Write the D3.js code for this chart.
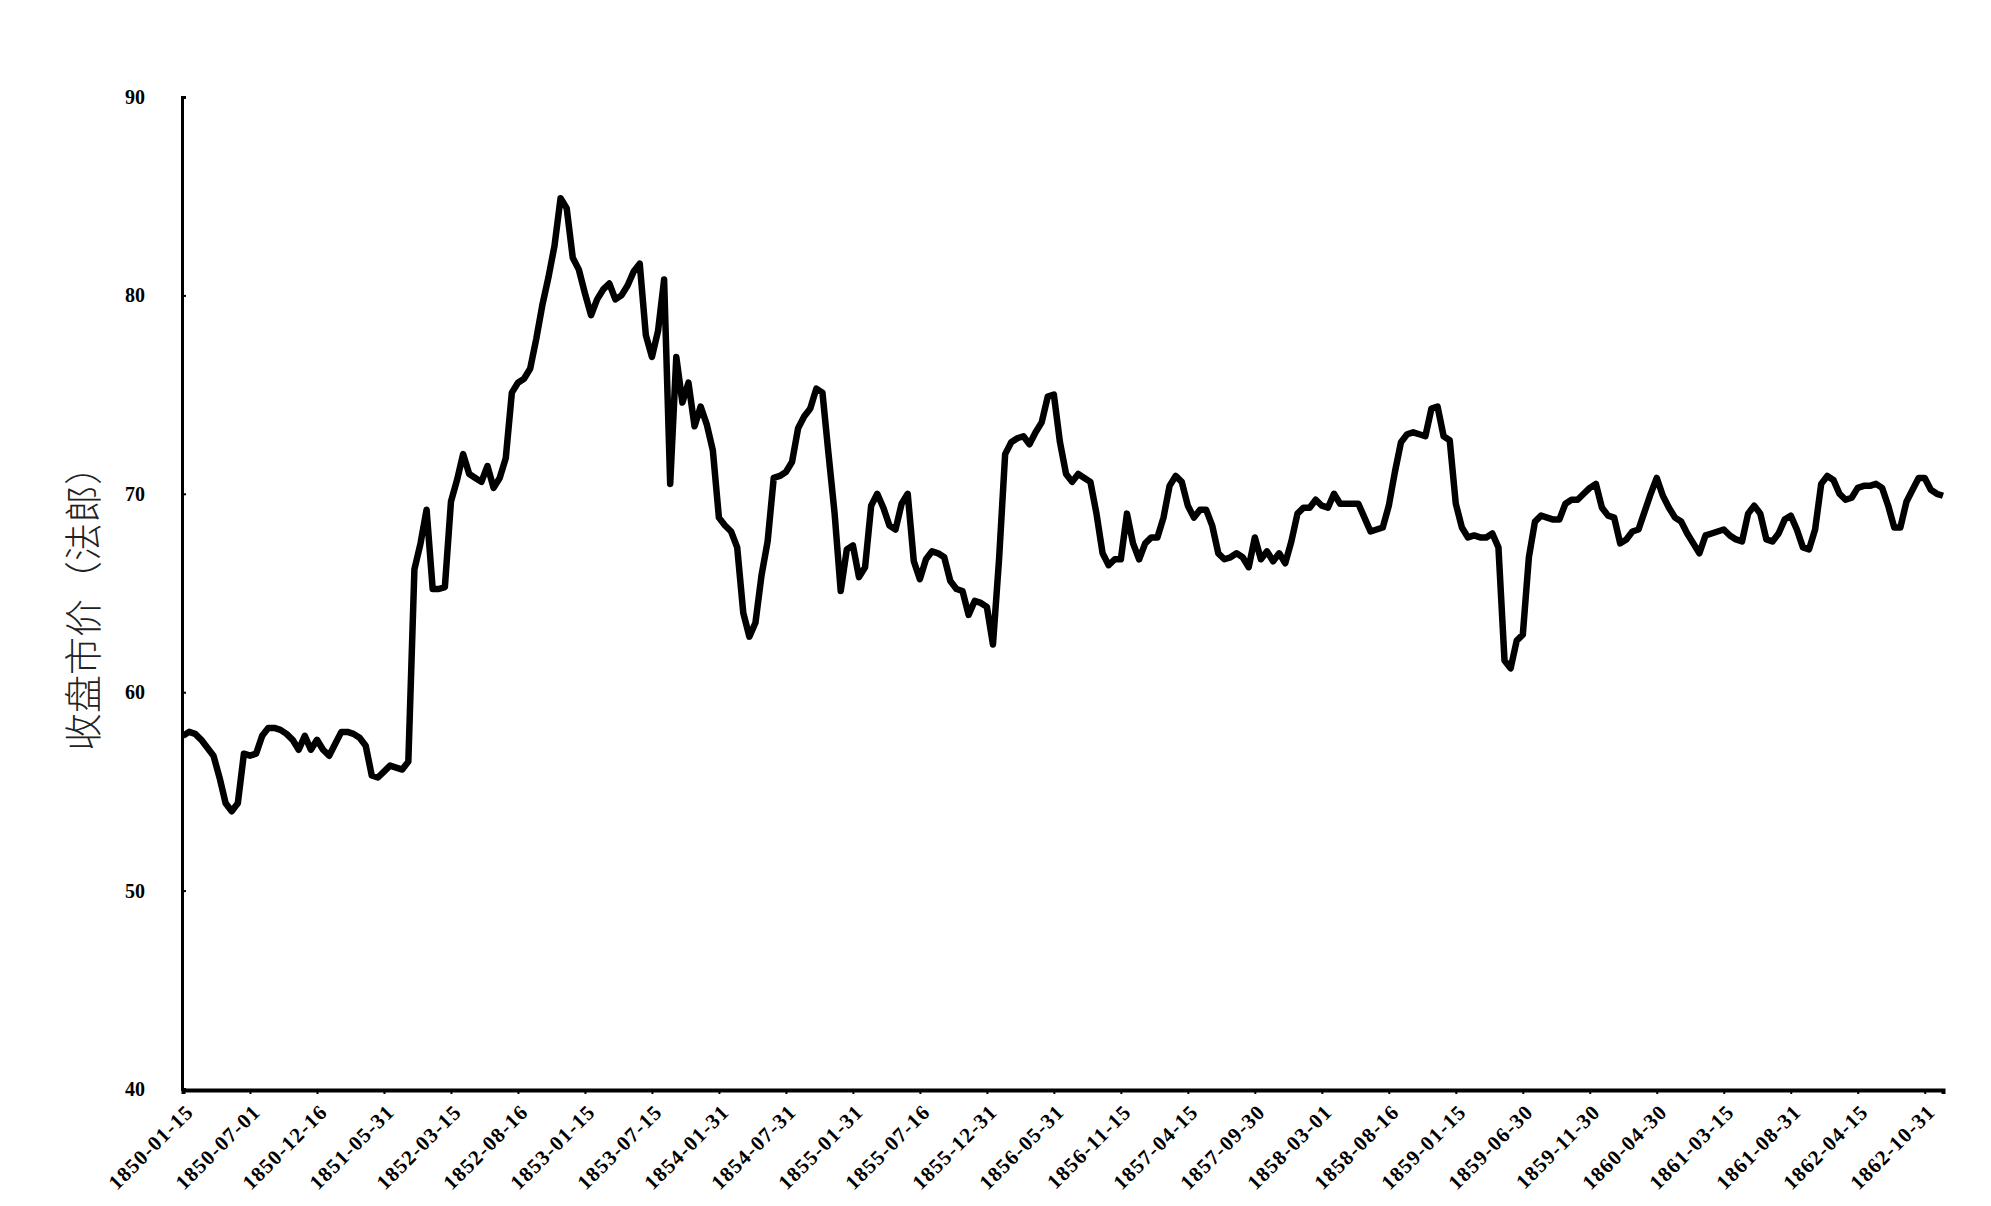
<!DOCTYPE html>
<html>
<head>
<meta charset="utf-8">
<script src="https://cdn.jsdelivr.net/npm/d3@7"></script>
<style>
  html, body { margin: 0; padding: 0; background: #fff; }
  svg { display: block; }
</style>
</head>
<body>
<svg id="chart" width="1991" height="1206"></svg>
<script>
// ---- data ----
const yTitle = "收盘市价（法郎）";
const yTicks = [40, 50, 60, 70, 80, 90];
const labelEvery = 11;
const tickLabels = ["1850-01-15","1850-07-01","1850-12-16","1851-05-31","1852-03-15","1852-08-16","1853-01-15","1853-07-15","1854-01-31","1854-07-31","1855-01-31","1855-07-16","1855-12-31","1856-05-31","1856-11-15","1857-04-15","1857-09-30","1858-03-01","1858-08-16","1859-01-15","1859-06-30","1859-11-30","1860-04-30","1861-03-15","1861-08-31","1862-04-15","1862-10-31"];
const closePrice = [
  57.8,58.0,57.9,57.6,57.2,56.8,55.7,54.4,54.0,54.4,
  56.9,56.8,56.9,57.8,58.2,58.2,58.1,57.9,57.6,57.1,
  57.8,57.1,57.6,57.1,56.8,57.4,58.0,58.0,57.9,57.7,
  57.3,55.8,55.7,56.0,56.3,56.2,56.1,56.5,66.2,67.5,
  69.2,65.2,65.2,65.3,69.6,70.7,72.0,71.0,70.8,70.6,
  71.4,70.3,70.8,71.8,75.1,75.6,75.8,76.3,77.8,79.5,
  80.9,82.5,84.9,84.4,81.9,81.3,80.1,79.0,79.8,80.3,
  80.6,79.8,80.0,80.5,81.2,81.6,78.0,76.9,78.2,80.8,
  70.5,76.9,74.6,75.6,73.4,74.4,73.5,72.2,68.8,68.4,
  68.1,67.3,64.0,62.8,63.5,65.9,67.6,70.8,70.9,71.1,
  71.6,73.3,73.9,74.3,75.3,75.1,72.0,69.0,65.1,67.2,
  67.4,65.8,66.3,69.4,70.0,69.3,68.4,68.2,69.5,70.0,
  66.6,65.7,66.7,67.1,67.0,66.8,65.6,65.2,65.1,63.9,
  64.6,64.5,64.3,62.4,66.7,72.0,72.6,72.8,72.9,72.5,
  73.1,73.6,74.9,75.0,72.6,71.0,70.6,71.0,70.8,70.6,
  69.0,67.0,66.4,66.7,66.7,69.0,67.5,66.7,67.5,67.8,
  67.8,68.8,70.4,70.9,70.6,69.4,68.8,69.2,69.2,68.4,
  67.0,66.7,66.8,67.0,66.8,66.3,67.8,66.7,67.1,66.6,
  67.0,66.5,67.6,69.0,69.3,69.3,69.7,69.4,69.3,70.0,
  69.5,69.5,69.5,69.5,68.8,68.1,68.2,68.3,69.4,71.1,
  72.6,73.0,73.1,73.0,72.9,74.3,74.4,72.9,72.7,69.5,
  68.3,67.8,67.9,67.8,67.8,68.0,67.3,61.6,61.2,62.6,
  62.9,66.8,68.6,68.9,68.8,68.7,68.7,69.5,69.7,69.7,
  70.0,70.3,70.5,69.3,68.9,68.8,67.5,67.7,68.1,68.2,
  69.1,70.0,70.8,69.9,69.3,68.8,68.6,68.0,67.5,67.0,
  67.9,68.0,68.1,68.2,67.9,67.7,67.6,69.0,69.4,69.0,
  67.7,67.6,68.0,68.7,68.9,68.2,67.3,67.2,68.2,70.5,
  70.9,70.7,70.0,69.7,69.8,70.3,70.4,70.4,70.5,70.3,
  69.4,68.3,68.3,69.6,70.2,70.8,70.8,70.2,70.0,69.9
];

// ---- layout ----
const svg = d3.select("#chart");
const plotLeft = 183, plotRight = 1943, plotTop = 97, plotBottom = 1089;

const x = d3.scalePoint()
  .domain(d3.range(closePrice.length))
  .range([plotLeft, plotRight]);

const y = d3.scaleLinear()
  .domain([40, 90])
  .range([plotBottom, plotTop]);

// y axis
const yAxis = d3.axisLeft(y)
  .tickValues(yTicks)
  .tickSize(-4)
  .tickPadding(37)
  .tickFormat(d3.format("d"));

const gy = svg.append("g")
  .attr("transform", `translate(${plotLeft - 1},0)`)
  .call(yAxis);
gy.select(".domain").attr("stroke", "#000").attr("stroke-width", 3);
gy.selectAll(".tick line").attr("stroke", "#000").attr("stroke-width", 2);
gy.selectAll(".tick text")
  .attr("font-family", "'Liberation Serif', 'DejaVu Serif', serif")
  .attr("font-weight", "bold")
  .attr("font-size", 20)
  .attr("fill", "#000");

// x axis
const xTickIdx = tickLabels.map((_, k) => k * labelEvery);
const xAxis = d3.axisBottom(x)
  .tickValues(xTickIdx)
  .tickSize(4)
  .tickFormat(i => tickLabels[i / labelEvery]);

const gx = svg.append("g")
  .attr("transform", `translate(0,${plotBottom + 1})`)
  .call(xAxis);
gx.select(".domain").attr("stroke", "#000").attr("stroke-width", 4);
gx.selectAll(".tick line").attr("stroke", "#000").attr("stroke-width", 2);
gx.selectAll(".tick text")
  .attr("font-family", "'Liberation Serif', 'DejaVu Serif', serif")
  .attr("font-weight", "bold")
  .attr("font-size", 21)
  .attr("letter-spacing", 1.2)
  .attr("fill", "#000")
  .attr("text-anchor", "end")
  .attr("x", 0).attr("y", 0).attr("dy", "0.35em")
  .attr("transform", "translate(6,18) rotate(-45)");

// line
const line = d3.line()
  .x((d, i) => x(i))
  .y(d => y(d));

svg.append("path")
  .datum(closePrice)
  .attr("fill", "none")
  .attr("stroke", "#000")
  .attr("stroke-width", 6.5)
  .attr("stroke-linejoin", "round")
  .attr("d", line);

// y title
svg.append("text")
  .attr("transform", `translate(80,${(plotTop + plotBottom) / 2 + 6}) rotate(-90)`)
  .attr("text-anchor", "middle")
  .attr("dominant-baseline", "central")
  .attr("font-family", "'Noto Sans CJK SC', sans-serif")
  .attr("font-weight", 300)
  .attr("font-size", 38)
  .attr("fill", "#222")
  .text(yTitle);
</script>
</body>
</html>
